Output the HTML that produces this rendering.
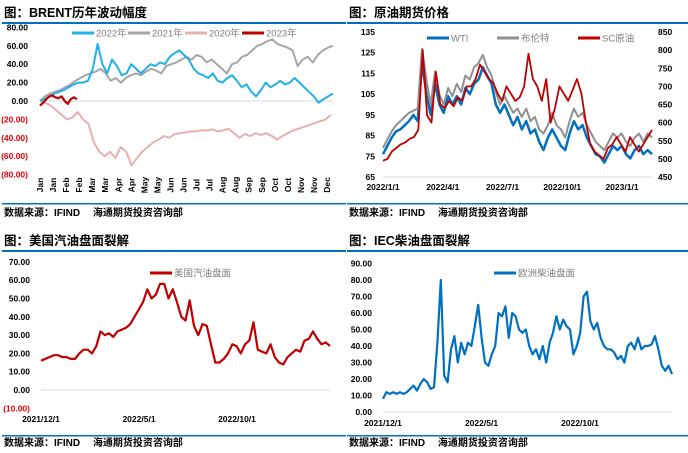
<!DOCTYPE html>
<html><head><meta charset="utf-8"><style>
html,body{margin:0;padding:0;background:#fff;}
svg{display:block;font-family:"Liberation Sans","Noto Sans CJK SC",sans-serif;}
.t{font-size:12.5px;font-weight:bold;fill:#000;}
.ax{font-size:8.5px;font-weight:bold;fill:#000;}
.neg{fill:#e8000b;}
.src{font-size:10px;font-weight:bold;fill:#000;}
.lg{font-size:9.5px;fill:#7f7f7f;}
</style></head><body>
<svg id="s" width="688" height="453" viewBox="0 0 688 453"></svg>
<script>
// ---- Chart 1: Brent yearly change ----
const brentMonths=["Jan","Jan","Feb","Feb","Mar","Mar","Apr","Apr","May","May","Jun","Jun","Jul","Jul","Aug","Aug","Sep","Sep","Oct","Oct","Nov","Nov","Dec"];
const brentTicks=[80,60,40,20,0,-20,-40,-60,-80];
const b2022=[0,2,5,8,10,12,15,18,20,20,22,35,62,40,30,45,38,28,30,40,35,30,35,40,38,42,40,48,52,55,50,45,35,30,28,25,30,22,20,25,28,22,15,18,10,5,12,20,15,18,22,18,20,25,20,15,10,5,-2,2,5,8];
const b2021=[0,5,8,10,12,15,18,22,25,28,30,32,35,30,22,25,20,25,28,30,28,32,35,33,30,38,40,42,45,48,45,50,48,42,45,40,35,30,40,42,48,50,55,60,62,65,67,62,60,58,55,38,45,48,42,50,55,58,60];
const b2020=[0,-2,-5,-10,-15,-20,-18,-12,-20,-25,-45,-55,-60,-55,-62,-50,-55,-70,-62,-55,-50,-45,-42,-38,-40,-36,-35,-34,-33,-33,-32,-32,-31,-33,-32,-30,-35,-40,-36,-38,-35,-37,-35,-38,-42,-38,-35,-32,-30,-28,-26,-24,-22,-20,-15];
const b2023=[-5,-2,2,5,6,4,3,5,0,-3,2,4,2];
// ---- Chart 2: crude futures ----
const crudeDates=["2022/1/1","2022/4/1","2022/7/1","2022/10/1","2023/1/1"];
const crudeLeftTicks=[135,125,115,105,95,85,75,65];
const crudeRightTicks=[850,800,750,700,650,600,550,500,450];
const wti=[76,80,84,87,88,90,92,95,92,120,105,95,110,100,96,104,100,104,100,108,105,110,112,118,114,110,100,96,100,95,90,94,88,92,86,88,82,78,84,88,84,80,78,86,92,88,90,84,80,76,75,72,76,80,78,80,76,74,78,80,76,78,76];
const brent=[79,83,87,90,92,94,96,97,98,127,112,100,116,105,100,108,104,110,106,114,112,118,120,124,118,114,106,100,104,100,96,98,94,98,92,94,88,86,90,96,90,88,84,92,98,94,96,90,86,82,80,78,82,86,84,86,82,80,84,86,82,86,84];
const sc=[495,500,520,530,540,545,555,560,580,800,620,600,740,650,640,660,645,670,660,700,700,720,760,740,720,710,680,660,700,680,660,670,700,790,720,700,660,720,600,640,700,680,660,690,720,680,600,540,520,510,500,530,540,560,540,520,560,540,520,540,560,580];
// ---- Chart 3: US gasoline crack ----
const crackDates=["2021/12/1","2022/5/1","2022/10/1"];
const gasTicks=[70,60,50,40,30,20,10,0,-10];
const gasoline=[16,17,18,19,19,18,18,17,17,20,22,22,20,24,32,30,31,29,32,33,34,36,40,44,48,55,50,52,58,58,50,55,48,40,38,49,35,30,36,35,25,15,15,17,20,25,24,20,25,27,37,22,21,20,25,18,15,14,18,20,22,21,27,28,32,28,25,26,24];
// ---- Chart 4: IEC diesel crack ----
const dieselTicks=[90,80,70,60,50,40,30,20,10,0];
const diesel=[8,12,11,12,11,12,11,12,14,16,13,17,20,18,14,15,42,80,22,18,38,46,30,42,35,42,40,52,65,45,30,28,35,40,60,58,64,45,60,58,50,48,50,40,35,38,32,40,30,42,48,58,50,56,52,50,35,40,48,70,73,55,50,54,45,40,38,38,36,32,34,30,40,42,38,45,38,40,40,41,46,38,28,25,28,23];

const svg=document.getElementById('s');
const NS='http://www.w3.org/2000/svg';
function el(tag,attrs,txt){const e=document.createElementNS(NS,tag);for(const k in attrs)e.setAttribute(k,attrs[k]);if(txt!==undefined)e.textContent=txt;svg.appendChild(e);return e;}
function lin(d0,d1,r0,r1){return v=>r0+(v-d0)/(d1-d0)*(r1-r0);}
function series(vals,x0,x1,y,color,w,name){
  const pts=vals.map((v,i)=>(x0+i/(vals.length-1)*(x1-x0)).toFixed(1)+','+y(v).toFixed(1)).join(' ');
  const p=el('polyline',{points:pts,fill:'none',stroke:color,'stroke-width':w,'stroke-linejoin':'round'});
  
  
}
function frame(x,title,ruleY,botY,srcY,name){
  const t=el('text',{x:x,y:ruleY-5,class:'t'},title);
  
  
  const r1=el('rect',{x:x-2,y:ruleY,width:344,height:2,fill:'#0070c0'});
  
  
  const r2=el('rect',{x:x-2,y:botY,width:344,height:1.5,fill:'#0070c0'});
  
  
  const s=el('text',{x:x,y:srcY,class:'src'},'数据来源：IFIND　 海通期货投资咨询部');
  
  
}
function legendItem(x,y,color,label,name){
  const l=el('line',{x1:x,y1:y,x2:x+22,y2:y,stroke:color,'stroke-width':3});
  
  
  const t=el('text',{x:x+24,y:y+3.5,class:'lg'},label);
  
  
}
function yLabel(x,y,v,anchor,name,fmt){
  const txt=fmt(v);
  const t=el('text',{x:x,y:y+3,class:'ax'+(v<0?' neg':''),'text-anchor':anchor},txt);
  
  
}
const f2=v=>v<0?'('+Math.abs(v).toFixed(2)+')':v.toFixed(2);
const f0=v=>String(v);

// Chart 1
frame(4,'图：BRENT历年波动幅度',22,203,216,'brent-chart');
{const y=lin(0,20,101,82.6);const x0=40,x1=333;
 brentTicks.forEach(v=>yLabel(28,y(v),v,'end','brent-y-tick',f2));
 const zl=el('line',{x1:x0,y1:y(0),x2:x1,y2:y(0),stroke:'#d9d9d9','stroke-width':1});
 
 brentMonths.forEach((m,i)=>{const xx=x0+i*(327-x0)/(brentMonths.length-1);
  const t=el('text',{x:0,y:0,class:'ax',transform:`translate(${xx+3},${185}) rotate(-90)`,'text-anchor':'middle'},m);
  });
 series(b2020,x0,331,y,'#e6b0ae',2,'series-2020');
 series(b2021,x0,333,y,'#a6a6a6',2,'series-2021');
 series(b2022,x0,333,y,'#22b0e8',2,'series-2022');
 series(b2023,x0,77,y,'#c00000',2.2,'series-2023');
 legendItem(72,33,'#22b0e8','2022年','legend-2022');
 legendItem(128,33,'#a6a6a6','2021年','legend-2021');
 legendItem(185,33,'#e6b0ae','2020年','legend-2020');
 legendItem(242,33,'#c00000','2023年','legend-2023');}

// Chart 2
frame(349,'图：原油期货价格',22,203,216,'crude-chart');
{const yl=lin(65,135,177,32),yr=lin(450,850,177,32);const x0=383,x1=652;
 crudeLeftTicks.forEach(v=>yLabel(375,yl(v),v,'end','crude-left-tick',f0));
 crudeRightTicks.forEach(v=>yLabel(658,yr(v),v,'start','crude-right-tick',f0));
 const a=el('line',{x1:x0,y1:177,x2:652,y2:177,stroke:'#d9d9d9'});
 const xt=lin(0,4,383,622);
 crudeDates.forEach((d,i)=>{const t=el('text',{x:xt(i),y:190,class:'ax','text-anchor':'middle'},d);});
 series(wti,x0,x1,yl,'#0070c0',2.5,'series-wti');
 series(brent,x0,x1,yl,'#909090',2,'series-brent');
 series(sc,x0,x1,yr,'#c00000',1.8,'series-sc');
 legendItem(427,38,'#0070c0','WTI','legend-wti');
 legendItem(497,38,'#909090','布伦特','legend-brent');
 legendItem(578,38,'#c00000','SC原油','legend-sc');}

// Chart 3
frame(4,'图：美国汽油盘面裂解',250,435,446,'gasoline-chart');
{const y=lin(0,10,390,371.7);const x0=41,x1=330;
 gasTicks.forEach(v=>yLabel(30,y(v),v,'end','gasoline-y-tick',f2));
 const a=el('line',{x1:x0,y1:390,x2:x1,y2:390,stroke:'#d9d9d9'});
 crackDates.forEach((d,i)=>{const t=el('text',{x:41+i*98,y:422,class:'ax','text-anchor':'middle'},d);});
 series(gasoline,x0,x1,y,'#c00000',2.2,'series-us-gasoline');
 legendItem(150,273,'#c00000','美国汽油盘面','legend-us-gasoline');}

// Chart 4
frame(349,'图：IEC柴油盘面裂解',250,435,446,'diesel-chart');
{const y=lin(0,10,412,395.5);const x0=383,x1=672;
 dieselTicks.forEach(v=>yLabel(372,y(v),v,'end','diesel-y-tick',f2));
 const a=el('line',{x1:x0,y1:412,x2:x1,y2:412,stroke:'#d9d9d9'});
 crackDates.forEach((d,i)=>{const t=el('text',{x:383+i*98.5,y:426,class:'ax','text-anchor':'middle'},d);});
 series(diesel,x0,x1,y,'#0070c0',2.2,'series-eu-diesel');
 legendItem(494,273,'#0070c0','欧洲柴油盘面','legend-eu-diesel');}
</script>
</body></html>
